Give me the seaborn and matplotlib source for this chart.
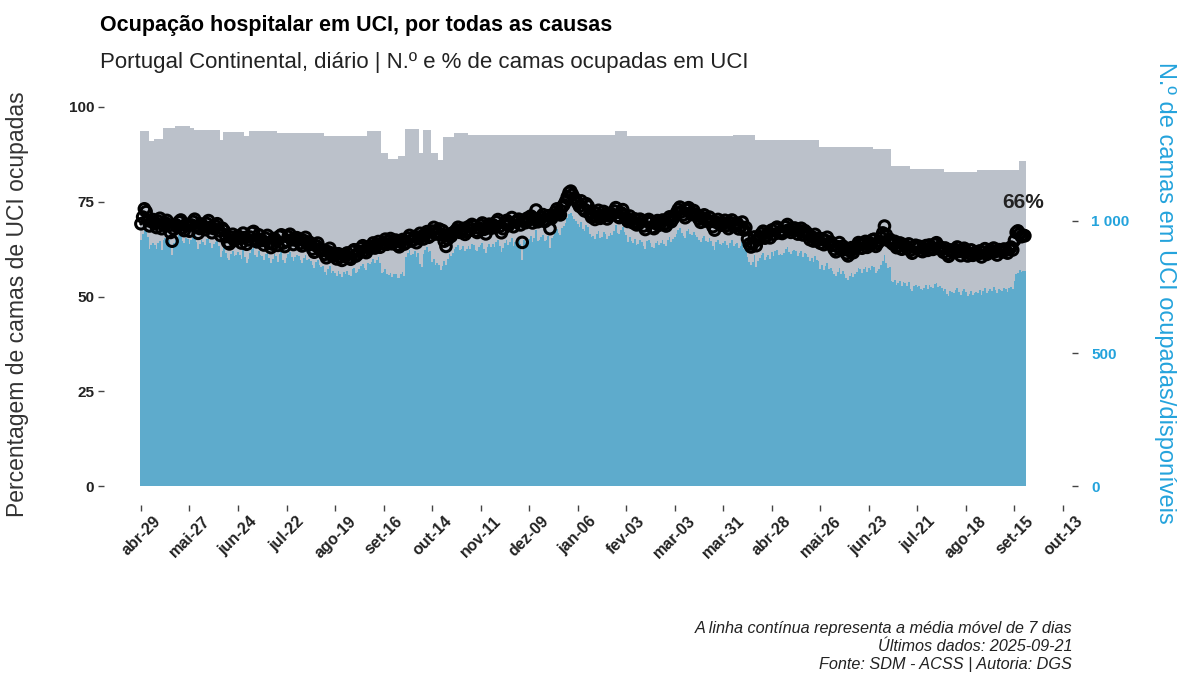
import numpy as np
import pandas as pd
import matplotlib
matplotlib.use("Agg")
import matplotlib.pyplot as plt
import matplotlib.ticker as mticker
import matplotlib.transforms as mtransforms
import seaborn as sns

# ---- data ----
start_date = "2024-04-29"
last_date = "2025-09-21"

# available ICU beds, as steps: level and number of days it holds
avail_beds = [1340, 1303, 1311, 1350, 1358, 1350, 1344, 1306, 1337, 1320,
              1340, 1331, 1322, 1338, 1256, 1233, 1244, 1346, 1257, 1344,
              1256, 1230, 1316, 1333, 1323, 1324, 1340, 1321, 1324, 1306,
              1280, 1270, 1207, 1195, 1183, 1193, 1227]
avail_days = [5, 3, 5, 7, 9, 2, 15, 2, 12, 3,
              16, 27, 25, 8, 4, 6, 4, 8, 2, 5,
              4, 3, 6, 8, 28, 57, 7, 61, 13, 37,
              31, 10, 11, 20, 19, 24, 4]

# daily % of ICU beds occupied (one row per week, starting on mondays)
pct_occupied = [
    69.2, 71.0, 73.1, 72.4, 70.1, 68.6, 69.8,
    70.3, 69.5, 68.2, 69.9, 70.6, 67.9, 68.8,
    69.4, 70.1, 68.7, 66.9, 64.6, 67.8, 69.0,
    68.3, 69.7, 70.2, 68.1, 67.4, 69.0, 68.6,
    67.2, 68.9, 69.8, 70.4, 68.5, 66.7, 67.9,
    69.1, 68.4, 67.6, 69.3, 70.0, 68.2, 66.8,
    67.9, 68.6, 69.2, 67.3, 66.1, 68.0, 67.4,
    65.8, 64.3, 63.9, 65.6, 66.4, 64.8, 65.2,
    66.0, 65.3, 64.1, 66.7, 65.5, 63.8, 64.9,
    65.7, 66.9, 67.2, 65.1, 64.4, 66.3, 65.0,
    64.8, 63.6, 65.4, 66.1, 64.2, 62.9, 63.8,
    65.3, 64.7, 63.5, 65.9, 66.3, 64.1, 63.2,
    64.6, 65.8, 66.4, 65.0, 63.7, 64.9, 65.5,
    65.1, 64.0, 63.3, 64.8, 65.6, 63.9, 64.4,
    63.8, 62.5, 61.7, 63.4, 64.1, 62.6, 62.0,
    62.3, 61.1, 60.2, 61.8, 62.7, 60.9, 61.4,
    60.8, 59.9, 61.3, 60.4, 59.5, 61.0, 60.6,
    61.5, 60.2, 59.8, 61.9, 62.3, 60.7, 61.1,
    61.9, 62.8, 63.4, 62.1, 61.6, 63.0, 62.7,
    63.2, 64.1, 62.8, 63.7, 64.5, 63.0, 63.9,
    64.2, 65.1, 63.8, 64.6, 65.3, 63.9, 64.7,
    64.9, 63.6, 63.1, 64.4, 65.0, 63.8, 64.3,
    65.4, 66.1, 64.6, 64.9, 65.8, 64.2, 65.2,
    66.7, 65.9, 65.2, 66.4, 67.1, 65.6, 66.0,
    67.3, 68.2, 66.5, 67.0, 67.8, 66.3, 67.4,
    64.6, 63.2, 65.1, 66.4, 65.9, 66.8, 67.0,
    67.6, 68.3, 66.9, 67.2, 68.0, 66.4, 67.1,
    68.4, 67.5, 69.0, 68.6, 67.3, 66.9, 68.1,
    68.8, 69.4, 67.7, 66.5, 68.2, 69.1, 68.0,
    68.9, 68.2, 69.7, 70.3, 68.5, 66.8, 67.9,
    69.3, 70.1, 68.7, 69.5, 70.8, 68.4, 69.7,
    69.8, 70.4, 68.9, 64.3, 70.1, 69.5, 70.7,
    70.3, 71.2, 69.4, 70.6, 72.8, 69.7, 70.1,
    70.9, 71.6, 69.8, 70.2, 71.3, 67.9, 70.6,
    71.4, 72.3, 73.1, 72.0, 71.5, 73.6, 74.2,
    75.1, 76.3, 77.4, 77.8, 76.9, 76.0, 75.4,
    74.7, 73.8, 75.2, 73.1, 72.6, 74.5, 73.9,
    71.8, 70.9, 71.4, 70.3, 71.9, 72.7, 70.6,
    71.0, 72.4, 71.7, 70.5, 71.3, 72.0, 71.6,
    72.6, 73.4, 71.2, 70.8, 72.1, 72.9, 71.5,
    70.6, 69.8, 71.2, 70.1, 69.4, 70.5, 68.9,
    69.1, 70.4, 69.8, 68.6, 67.7, 69.9, 70.3,
    69.5, 68.2, 67.9, 69.3, 70.0, 68.8, 69.4,
    70.2, 69.1, 68.6, 70.4, 71.0, 69.7, 70.5,
    71.2, 72.1, 73.0, 73.6, 72.4, 71.5, 70.8,
    72.9, 73.4, 72.1, 71.6, 72.7, 71.8, 71.2,
    70.4, 69.6, 70.8, 71.5, 70.1, 69.8, 70.9,
    69.9, 68.4, 67.5, 69.6, 70.3, 69.2, 68.8,
    69.4, 70.1, 68.7, 67.9, 69.5, 70.2, 68.5,
    68.9, 69.3, 67.8, 68.4, 69.6, 67.5, 68.2,
    65.2, 63.8, 63.1, 64.0, 65.7, 63.4, 64.9,
    65.8, 66.6, 67.2, 65.4, 66.1, 66.8, 65.5,
    67.5, 66.4, 67.9, 68.3, 66.8, 67.1, 66.6,
    67.2, 68.4, 69.0, 67.6, 66.9, 67.8, 68.1,
    67.9, 66.5, 67.3, 68.0, 66.2, 67.4, 66.9,
    66.2, 65.0, 65.8, 64.6, 66.4, 65.3, 64.9,
    64.1, 65.2, 63.7, 64.8, 65.6, 63.9, 64.4,
    63.5, 62.4, 61.8, 63.1, 64.2, 62.6, 63.3,
    62.4, 61.3, 60.7, 62.0, 62.9, 61.6, 62.5,
    63.1, 64.2, 63.8, 62.7, 63.9, 64.5, 63.0,
    64.3, 63.6, 64.9, 65.1, 63.2, 64.0, 64.6,
    65.5, 66.8, 68.6, 66.3, 64.8, 65.1, 64.2,
    63.8, 64.5, 62.9, 63.4, 64.1, 62.5, 63.7,
    63.4, 62.6, 63.9, 62.2, 61.4, 63.0, 63.5,
    62.8, 63.3, 62.1, 61.8, 62.6, 63.4, 62.2,
    63.6, 62.9, 62.4, 63.8, 64.2, 62.7, 63.1,
    62.5, 61.7, 62.8, 61.2, 60.6, 62.3, 62.0,
    61.6, 62.4, 63.1, 61.9, 60.8, 62.2, 62.7,
    61.9, 60.7, 61.4, 62.3, 60.9, 61.5, 61.8,
    61.2, 62.0, 60.4, 61.7, 62.6, 61.1, 61.5,
    62.3, 61.6, 62.8, 61.9, 60.9, 62.4, 62.1,
    61.8, 62.5, 62.2, 61.4, 62.6, 63.0, 62.3,
    64.8, 66.9, 67.3, 66.5, 65.8, 66.2, 66.0,
]

meses_pt = ["jan", "fev", "mar", "abr", "mai", "jun",
            "jul", "ago", "set", "out", "nov", "dez"]

title = "Ocupação hospitalar em UCI, por todas as causas"
subtitle = "Portugal Continental, diário | N.º e % de camas ocupadas em UCI"
caption = ["A linha contínua representa a média móvel de 7 dias",
           "Últimos dados: 2025-09-21",
           "Fonte: SDM - ACSS | Autoria: DGS"]

# ---- build table ----
dates = pd.date_range(start_date, last_date, freq="D")
disponiveis = np.repeat(avail_beds, avail_days)
ocupadas = np.round(np.array(pct_occupied) * disponiveis / 100)
df = pd.DataFrame({"data": dates, "disponiveis": disponiveis, "ocupadas": ocupadas})
df["pct"] = df["ocupadas"] / df["disponiveis"] * 100
df["media7"] = df["pct"].rolling(7, min_periods=1).mean()

# ---- style ----
GRAY = "#bbc1ca"
BLUE = "#5eabcc"
AXBLUE = "#24a3dc"
TXT = "#222222"
camas_por_pct = 14.3  # right axis / left axis ratio

sns.set_theme(style="white")
plt.rcParams["font.family"] = ["Liberation Sans", "DejaVu Sans"]

W, H = 1178, 678
fig = plt.figure(figsize=(W / 100, H / 100), dpi=100)
ax = fig.add_axes([104 / W, 1 - 505 / H, (1072 - 104) / W, (505 - 88) / H])

# bars in beds (right axis)
ax.bar(df["data"], df["disponiveis"], width=1.0, color=GRAY, linewidth=0)
ax.bar(df["data"], df["ocupadas"], width=1.0, color=BLUE, linewidth=0)

# percentage on top (left axis)
ax2 = ax.twinx()
sns.lineplot(data=df, x="data", y="media7", ax=ax2, color="black", linewidth=2.5)
sns.scatterplot(data=df, x="data", y="pct", ax=ax2, marker="o", s=58,
                facecolor="none", edgecolor="black", linewidth=2.2)
ax2.set_xlabel("")
ax2.set_ylabel("")
ax.set_xlabel("")

last = df.iloc[-1]
ax2.annotate(f"{last['pct']:.0f}%", (last["data"], last["pct"]),
             xytext=(-1, 17), textcoords="offset points", ha="center",
             va="bottom", fontsize=15, fontweight="bold", color=TXT)

# axes
ax2.set_ylim(-5, 105)
ax.set_ylim(-5 * camas_por_pct, 105 * camas_por_pct)
ax2.yaxis.tick_left()
ax.yaxis.tick_right()
ax2.set_yticks([0, 25, 50, 75, 100])
ax.set_yticks([0, 500, 1000])
ax.yaxis.set_major_formatter(mticker.FuncFormatter(lambda v, p: f"{int(v):,}".replace(",", " ")))

d0 = pd.Timestamp(start_date)
ax.set_xlim(d0 - pd.Timedelta(days=21.3), d0 + pd.Timedelta(days=537.2))
ticks = pd.date_range(start_date, periods=20, freq="28D")
ax.set_xticks(ticks)
ax.set_xticklabels([f"{meses_pt[t.month - 1]}-{t.day:02d}" for t in ticks],
                   rotation=45, ha="center", fontweight="bold", fontsize=11.5, color=TXT)
shift = mtransforms.ScaledTranslation(5 / 100, 4 / 100, fig.dpi_scale_trans)
for lab in ax.get_xticklabels():
    lab.set_transform(lab.get_transform() + shift)

ax.tick_params(axis="x", length=4, width=1, color="#444444", pad=2, bottom=True)
ax.tick_params(axis="y", length=4, width=1, color="#444444", pad=10,
               labelsize=11, labelcolor=AXBLUE, right=True)
ax2.tick_params(axis="y", length=4, width=1, color="#444444", pad=3,
                labelsize=11, labelcolor=TXT, left=True)
for lab in ax.get_yticklabels() + ax2.get_yticklabels():
    lab.set_fontweight("bold")

for a in (ax, ax2):
    for s in a.spines.values():
        s.set_visible(False)

# text
fig.text(100 / W, 1 - 31 / H, title, fontsize=15.5, fontweight="bold", color="black")
fig.text(100 / W, 1 - 68 / H, subtitle, fontsize=16, color=TXT)
fig.text(18 / W, 1 - 304 / H, "Percentagem de camas de UCI ocupadas", rotation=90,
         ha="center", va="center", fontsize=16.5, color="#333333")
fig.text(1165 / W, 1 - 293 / H, "N.º de camas em UCI ocupadas/disponíveis", rotation=270,
         ha="center", va="center", fontsize=17, color=AXBLUE)
for i, line in enumerate(caption):
    fig.text(1072 / W, 1 - (633 + 18 * i) / H, line, ha="right", fontsize=11.7,
             style="italic", color=TXT)

fig.savefig("out.png", dpi=100)
